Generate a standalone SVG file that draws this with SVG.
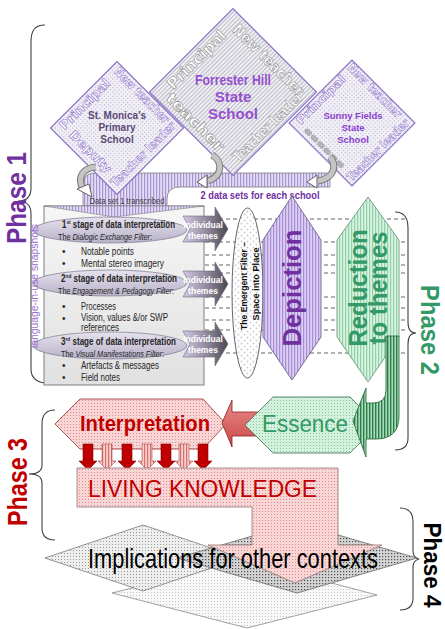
<svg xmlns="http://www.w3.org/2000/svg" width="445" height="629" viewBox="0 0 445 629">
<defs>
<pattern id="pDotsLav" width="3" height="3" patternUnits="userSpaceOnUse"><rect width="3" height="3" fill="#f1eff6"/><rect x="1" y="1" width="1" height="1" fill="#b3a9c8"/></pattern>
<pattern id="pStripeGrey" width="3" height="3" patternUnits="userSpaceOnUse"><rect width="3" height="3" fill="#efeff3"/><rect width="1" height="3" fill="#bcbcc8"/></pattern>
<pattern id="pStripePurple" width="3" height="3" patternUnits="userSpaceOnUse"><rect width="3" height="3" fill="#e4dcf3"/><rect width="1.2" height="3" fill="#a794d2"/></pattern>
<pattern id="pStripeDepict" width="3" height="3" patternUnits="userSpaceOnUse"><rect width="3" height="3" fill="#dccff2"/><rect width="1.2" height="3" fill="#a78dd8"/></pattern>
<pattern id="pStripeGreen" width="3" height="3" patternUnits="userSpaceOnUse"><rect width="3" height="3" fill="#daf2e2"/><rect width="1.2" height="3" fill="#8ed2a6"/></pattern>
<pattern id="pStripeDkGreen" width="3" height="3" patternUnits="userSpaceOnUse"><rect width="3" height="3" fill="#a8dcb8"/><rect width="1.4" height="3" fill="#2e7d4a"/></pattern>
<pattern id="pDotsGreen" width="3" height="3" patternUnits="userSpaceOnUse"><rect width="3" height="3" fill="#d4f1de"/><rect x="1" y="1" width="1" height="1" fill="#86c79c"/></pattern>
<pattern id="pDotsPink" width="3" height="3" patternUnits="userSpaceOnUse"><rect width="3" height="3" fill="#f9d6d6"/><rect x="1" y="1" width="1" height="1" fill="#de8a8a"/></pattern>
<pattern id="pStripePink" width="3" height="3" patternUnits="userSpaceOnUse"><rect width="3" height="3" fill="#f7d0d0"/><rect width="1.2" height="3" fill="#d87070"/></pattern>
<pattern id="pDotsL1" width="3" height="3" patternUnits="userSpaceOnUse"><rect width="3" height="3" fill="#f8f8f8"/><rect x="1" y="1" width="1" height="1" fill="#c6c6c6"/></pattern>
<pattern id="pDotsL2" width="3" height="3" patternUnits="userSpaceOnUse"><rect width="3" height="3" fill="#eeeeee"/><rect x="1" y="1" width="1" height="1" fill="#999"/></pattern>
<pattern id="pDotsL3" width="3" height="3" patternUnits="userSpaceOnUse"><rect width="3" height="3" fill="#d4d4d4"/><rect x="1" y="1" width="1.2" height="1.2" fill="#4f4f4f"/></pattern>
<pattern id="pDotsWhite" width="6" height="6" patternUnits="userSpaceOnUse"><rect width="6" height="6" fill="#fff"/><circle cx="1.5" cy="1.5" r="1" fill="#cfcfdc"/><circle cx="4.5" cy="4.5" r="1" fill="#cfcfdc"/></pattern>
<linearGradient id="gBox" x1="0" y1="0" x2="0" y2="1"><stop offset="0" stop-color="#f6f6f6"/><stop offset="1" stop-color="#e1e1e1"/></linearGradient>
<linearGradient id="gEll" x1="0" y1="0" x2="0" y2="1"><stop offset="0" stop-color="#e6e2ee"/><stop offset="1" stop-color="#b8b1c8"/></linearGradient>
<linearGradient id="gInd" x1="0" y1="0" x2="1" y2="0"><stop offset="0" stop-color="#d4c8e6"/><stop offset="0.55" stop-color="#8d8698"/><stop offset="1" stop-color="#484852"/></linearGradient>
<linearGradient id="gRed" x1="0" y1="0" x2="0" y2="1"><stop offset="0" stop-color="#ea8a8a"/><stop offset="1" stop-color="#c94848"/></linearGradient>
</defs>
<style>
.brace{fill:none;stroke:#404040;stroke-width:1.1}
.ph{font-family:"Liberation Sans",Arial,sans-serif;font-weight:bold;text-anchor:middle}
.lbl{font-family:"DejaVu Sans",sans-serif;font-weight:bold;fill:#fff;stroke-width:0.55;text-anchor:middle}
.lp{stroke:#8a6cc8}
.lg{stroke:#858585}
.ctr{font-family:"Liberation Sans",Arial,sans-serif;font-weight:bold;text-anchor:middle}
.bx{font-family:"Liberation Sans",Arial,sans-serif;fill:#262626}
.hd{font-weight:bold;font-size:10px}
.sub{font-size:8.5px}
.bl{font-size:10px}
.dash{stroke:#3a3a3a;stroke-width:0.8;stroke-dasharray:4 3}
.ind{fill:url(#gInd);stroke:#6a6a78;stroke-width:0.6}
.indt{font-family:"Liberation Sans",Arial,sans-serif;font-weight:bold;font-size:8.5px;fill:#fff;text-anchor:middle}
.garr{fill:none;stroke:#7a7a7a;stroke-width:7;stroke-linecap:butt}
.garr2{fill:none;stroke:#c4c4c4;stroke-width:5}
.ghead{fill:#fff;stroke:#555;stroke-width:0.9}
.dn1{fill:#c00000;stroke:#800000;stroke-width:0.6}
.dn2{fill:url(#pStripePink);stroke:#b04848;stroke-width:0.6}
.big{font-family:"Liberation Sans",Arial,sans-serif}
.nar{font-family:"Liberation Sans Narrow","Liberation Sans",Arial,sans-serif}
</style>

<g id="phase-1">
<path class="brace" d="M45,25 C35,25 31,30 31,42 L31,188 C31,197 26,201 18,201 C26,201 31,205 31,214 L31,369 C31,378 36,382 45,383"/>
<text class="ph" font-size="28" fill="#7030A0" transform="translate(26,198) rotate(-90)" textLength="92" lengthAdjust="spacingAndGlyphs">Phase 1</text>
</g>
<g id="phase-2">
<path class="brace" d="M395,212 C404,212 408,218 408,228 L408,322 C408,330 411,333 416,333 C411,333 408,336 408,344 L408,438 C408,446 404,450 395,450"/>
<text class="ph" font-size="26" fill="#339966" transform="translate(421,330) rotate(90)" textLength="90" lengthAdjust="spacingAndGlyphs">Phase 2</text>
</g>
<g id="phase-3">
<path class="brace" d="M55,410 C46,410 42,415 42,424 L42,465 C42,471 37,474 29,474 C37,474 42,477 42,483 L42,528 C42,536 46,540 55,540"/>
<text class="ph" font-size="27" fill="#C00000" transform="translate(27,482) rotate(-90)" textLength="88" lengthAdjust="spacingAndGlyphs">Phase 3</text>
</g>
<g id="phase-4">
<path class="brace" d="M400,508 C409,508 413,513 413,522 L413,551 C413,556 415,558 419,559 C415,560 413,562 413,567 L413,598 C413,606 409,610 400,610"/>
<text class="ph" font-size="24" fill="#000" transform="translate(424,565) rotate(90)" textLength="85" lengthAdjust="spacingAndGlyphs">Phase 4</text>
</g>

<g id="connectors">
<path d="M330,173 L95,173 Q83,173 83,185 L83,207 L167,207 L167,199 Q167,187 180,187 L330,187 Z" fill="url(#pStripePurple)" stroke="#7f7f7f" stroke-width="0.8"/>
<text class="nar" x="127" y="204" font-size="9" fill="#404040" text-anchor="middle" textLength="75" lengthAdjust="spacingAndGlyphs">Data set 1 transcribed</text>
</g>

<g id="node-forrester-hill">
<g transform="translate(233,92) rotate(45)">
<rect x="-59" y="-59" width="118" height="118" fill="url(#pStripeGrey)" stroke="#8c74c8" stroke-width="1.2"/>
<text class="lbl lg" font-size="15" transform="translate(-43.5,3) rotate(-90)" textLength="76" lengthAdjust="spacingAndGlyphs">Principal</text>
<text class="lbl lg" font-size="15" x="2.5" y="-42.5" textLength="94" lengthAdjust="spacingAndGlyphs">New teacher</text>
<text class="lbl lg" font-size="15" x="-5.6" y="53" textLength="75" lengthAdjust="spacingAndGlyphs">teacher</text>
<text class="lbl lg" font-size="15" transform="translate(54.5,0) rotate(-90)" textLength="92" lengthAdjust="spacingAndGlyphs">Teacher leader</text>
</g>
<text class="ctr" font-size="15" fill="#9650d0" x="233" y="85" textLength="76" lengthAdjust="spacingAndGlyphs">Forrester Hill</text>
<text class="ctr" font-size="15" fill="#9650d0" x="233" y="102">State</text>
<text class="ctr" font-size="15" fill="#9650d0" x="233" y="119">School</text>
</g>

<g id="node-st-monicas">
<g transform="translate(117,128) rotate(45)">
<rect x="-47" y="-47" width="94" height="94" fill="url(#pDotsLav)" stroke="#8c74c8" stroke-width="1.2"/>
<text class="lbl lp" font-size="12" transform="translate(-35.5,6) rotate(-90)" textLength="66" lengthAdjust="spacingAndGlyphs">Principal</text>
<text class="lbl lp" font-size="12" x="-5.7" y="-36.5" textLength="73" lengthAdjust="spacingAndGlyphs">New teacher</text>
<text class="lbl lp" font-size="12" x="-2" y="39.5" textLength="54" lengthAdjust="spacingAndGlyphs">Deputy</text>
<text class="lbl lp" font-size="12" transform="translate(41,0) rotate(-90)" textLength="86" lengthAdjust="spacingAndGlyphs">Teacher leader</text>
</g>
<text class="ctr" font-size="10" fill="#5a4a78" x="117" y="119">St. Monica’s</text>
<text class="ctr" font-size="10" fill="#5a4a78" x="117" y="131">Primary</text>
<text class="ctr" font-size="10" fill="#5a4a78" x="117" y="143">School</text>
</g>

<g id="node-sunny-fields">
<g transform="translate(352,123) rotate(45)">
<rect x="-44.5" y="-44.5" width="89" height="89" fill="url(#pDotsLav)" stroke="#8c74c8" stroke-width="1.2"/>
<text class="lbl lp" font-size="11.5" transform="translate(-34.5,5.6) rotate(-90)" textLength="64" lengthAdjust="spacingAndGlyphs">Principal</text>
<text class="lbl lp" font-size="11.5" x="-7" y="-35" textLength="71" lengthAdjust="spacingAndGlyphs">New teacher</text>
<text class="lbl lp" font-size="11.5" transform="translate(41.5,0.7) rotate(-90)" textLength="82" lengthAdjust="spacingAndGlyphs">Teacher leader</text>
<g fill="#b4b4bc" stroke="#8a8a94" stroke-width="0.6">
<rect x="-28" y="35.5" width="7" height="4" rx="1"/>
<rect x="-19" y="35.5" width="7" height="4" rx="1"/>
<rect x="-10" y="35.5" width="7" height="4" rx="1"/>
<rect x="-1" y="35.5" width="7" height="4" rx="1"/>
<rect x="8" y="35.5" width="7" height="4" rx="1"/>
<rect x="17" y="35.5" width="7" height="4" rx="1"/>
</g>
</g>
<text class="ctr" font-size="9.5" fill="#8a3fd0" x="353" y="119">Sunny Fields</text>
<text class="ctr" font-size="9.5" fill="#8a3fd0" x="353" y="131">State</text>
<text class="ctr" font-size="9.5" fill="#8a3fd0" x="353" y="143">School</text>
</g>

<g id="connectors-2">
<path class="garr" d="M96,167 C82,168 77,178 83,189"/>
<path class="garr2" d="M96,167 C82,168 77,178 83,189"/>
<polygon class="ghead" points="77,189 89,184 92,197"/>
<path class="garr" d="M212,155 C223,161 223,176 208,181"/>
<path class="garr2" d="M212,155 C223,161 223,176 208,181"/>
<polygon class="ghead" points="207,175 207,188 197,182"/>
<path class="garr" d="M330,157 C337,165 335,178 318,181"/>
<path class="garr2" d="M330,157 C337,165 335,178 318,181"/>
<polygon class="ghead" points="317,175 317,188 307,182"/>
<text class="ctr" font-size="10" fill="#7030A0" x="260" y="199" textLength="119" lengthAdjust="spacingAndGlyphs">2 data sets for each school</text>
<line class="dash" x1="205" y1="219" x2="405" y2="219"/>
<line class="dash" x1="205" y1="242" x2="405" y2="242"/>
<line class="dash" x1="205" y1="255" x2="405" y2="255"/>
<line class="dash" x1="205" y1="265" x2="405" y2="265"/>
<line class="dash" x1="205" y1="273" x2="405" y2="273"/>
<line class="dash" x1="205" y1="297" x2="405" y2="297"/>
<line class="dash" x1="205" y1="308" x2="405" y2="308"/>
<line class="dash" x1="205" y1="320" x2="405" y2="320"/>
<line class="dash" x1="205" y1="330" x2="405" y2="330"/>
<line class="dash" x1="205" y1="353" x2="405" y2="353"/>
</g>

<g id="node-interpretation-box">
<rect x="44" y="206" width="160" height="179" fill="url(#gBox)" stroke="#7f7f7f" stroke-width="1"/>
<polygon points="44,206 204,206 114,217" fill="url(#pStripePurple)" stroke="#7f7f7f" stroke-width="0.6"/>
<ellipse cx="110" cy="230" rx="77" ry="13" fill="url(#gEll)" stroke="#8a849a" stroke-width="0.8"/>
<ellipse cx="110" cy="283" rx="77" ry="13" fill="url(#gEll)" stroke="#8a849a" stroke-width="0.8"/>
<ellipse cx="110" cy="345.5" rx="77" ry="13.5" fill="url(#gEll)" stroke="#8a849a" stroke-width="0.8"/>
<text class="big" font-size="10" fill="#9a70d2" transform="translate(38,286) rotate(-90)" text-anchor="middle" textLength="124" lengthAdjust="spacingAndGlyphs">language-in-use snapshots</text>
<text class="bx hd" x="62" y="227.5" textLength="113" lengthAdjust="spacingAndGlyphs">1<tspan font-size="6" dy="-4">st</tspan><tspan dy="4"> stage of data interpretation</tspan></text>
<text class="bx sub" x="58" y="239.5" textLength="94" lengthAdjust="spacingAndGlyphs">The <tspan font-style="italic">Dialogic Exchange Filter</tspan>:</text>
<text class="bx bl" x="62" y="255">•</text>
<text class="bx bl" x="81" y="255" textLength="53" lengthAdjust="spacingAndGlyphs">Notable points</text>
<text class="bx bl" x="62" y="267">•</text>
<text class="bx bl" x="81" y="267" textLength="83" lengthAdjust="spacingAndGlyphs">Mental stereo imagery</text>
<text class="bx hd" x="61" y="281.5" textLength="116" lengthAdjust="spacingAndGlyphs">2<tspan font-size="6" dy="-4">nd</tspan><tspan dy="4"> stage of data interpretation</tspan></text>
<text class="bx sub" x="58" y="293.5" textLength="116" lengthAdjust="spacingAndGlyphs">The <tspan font-style="italic">Engagement &amp; Pedagogy Filter</tspan>:</text>
<text class="bx bl" x="62" y="310">•</text>
<text class="bx bl" x="81" y="310" textLength="35" lengthAdjust="spacingAndGlyphs">Processes</text>
<text class="bx bl" x="62" y="322">•</text>
<text class="bx bl" x="81" y="321" textLength="87" lengthAdjust="spacingAndGlyphs">Vision, values &amp;/or SWP</text>
<text class="bx bl" x="81" y="331" textLength="38" lengthAdjust="spacingAndGlyphs">references</text>
<text class="bx hd" x="61" y="344.5" textLength="115" lengthAdjust="spacingAndGlyphs">3<tspan font-size="6" dy="-4">rd</tspan><tspan dy="4"> stage of data interpretation</tspan></text>
<text class="bx sub" x="61" y="356.5" textLength="103" lengthAdjust="spacingAndGlyphs">The <tspan font-style="italic">Visual Manifestations Filter</tspan>:</text>
<text class="bx bl" x="62" y="369">•</text>
<text class="bx bl" x="81" y="369" textLength="78" lengthAdjust="spacingAndGlyphs">Artefacts &amp; messages</text>
<text class="bx bl" x="62" y="381">•</text>
<text class="bx bl" x="81" y="381" textLength="39" lengthAdjust="spacingAndGlyphs">Field notes</text>
</g>

<g id="node-individual-themes">
<path class="ind" d="M183,216 L215,216 L215,207 L228,229 L215,251 L215,242 L183,242 L190,229 Z"/>
<text class="indt" x="203" y="228">Individual</text><text class="indt" x="203" y="239">themes</text>
<path class="ind" d="M183,271 L215,271 L215,262 L228,284 L215,306 L215,297 L183,297 L190,284 Z"/>
<text class="indt" x="203" y="283">Individual</text><text class="indt" x="203" y="294">themes</text>
<path class="ind" d="M183,331 L215,331 L215,322 L228,344 L215,366 L215,357 L183,357 L190,344 Z"/>
<text class="indt" x="203" y="342">Individual</text><text class="indt" x="203" y="353">themes</text>
</g>

<g id="node-emergent-filter">
<ellipse cx="247.5" cy="293" rx="15.5" ry="85" fill="url(#pDotsWhite)" stroke="#555" stroke-width="0.9"/>
<text class="ctr" font-size="9.5" fill="#111" transform="translate(246.5,286) rotate(-90)" textLength="88" lengthAdjust="spacingAndGlyphs">The Emergent Filter –</text>
<text class="ctr" font-size="9.5" fill="#111" transform="translate(258.5,284) rotate(-90)" textLength="73" lengthAdjust="spacingAndGlyphs">Space into Place</text>
</g>

<g id="node-depiction">
<polygon points="292,196 321,240 321,337 292,380 263,337 263,240" fill="url(#pStripeDepict)" stroke="#6d6090" stroke-width="0.9"/>
<text class="ph" font-size="26" fill="#7030A0" transform="translate(301,288) rotate(-90)" textLength="117" lengthAdjust="spacingAndGlyphs">Depiction</text>
</g>

<g id="node-reduction">
<polygon points="368,197 399,240 399,337 368,382 337,337 337,240" fill="url(#pStripeGreen)" stroke="#6f9a80" stroke-width="0.9"/>
<text class="ph" font-size="25" fill="#339966" transform="translate(367,288) rotate(-90)" textLength="117" lengthAdjust="spacingAndGlyphs">Reduction</text>
<text class="ph" font-size="25" fill="#339966" transform="translate(387,288) rotate(-90)" textLength="113" lengthAdjust="spacingAndGlyphs">to themes</text>
</g>

<g id="node-interpretation">
<polygon points="55,424 80,399 203,399 226,424 203,449 80,449" fill="url(#pDotsPink)" stroke="#a04040" stroke-width="0.9"/>
<text class="nar" x="80" y="431" font-size="22" font-weight="bold" fill="#C00000" textLength="130" lengthAdjust="spacingAndGlyphs">Interpretation</text>
</g>

<g id="connectors-3">
<polygon points="222,423 232,400 232,412 262,412 262,436 232,436 232,447" fill="url(#gRed)" stroke="#8b2020" stroke-width="0.8"/>
</g>

<g id="node-essence">
<polygon points="245,425 273,397 350,397 362,409 362,441 350,453 273,453" fill="url(#pDotsGreen)" stroke="#4d7a5c" stroke-width="0.9"/>
<text class="nar" x="262" y="432" font-size="23" fill="#339966" textLength="86" lengthAdjust="spacingAndGlyphs">Essence</text>
</g>

<g id="connectors-4">
<path d="M386,336 L399,336 L399,416 Q399,439 376,439 L366,439 L366,457 L353,421 L366,388 L366,403 L373,403 Q386,403 386,390 Z" fill="url(#pStripeDkGreen)" stroke="#2e6e40" stroke-width="0.9"/>
<path class="dn1" d="M83,444 h10 v17 h4 l-9,9 l-9,-9 h4 z"/>
<path class="dn2" d="M102,444 h10 v17 h4 l-9,9 l-9,-9 h4 z"/>
<path class="dn1" d="M122,444 h10 v17 h4 l-9,9 l-9,-9 h4 z"/>
<path class="dn2" d="M142,444 h10 v17 h4 l-9,9 l-9,-9 h4 z"/>
<path class="dn1" d="M161,444 h10 v17 h4 l-9,9 l-9,-9 h4 z"/>
<path class="dn2" d="M179,444 h10 v17 h4 l-9,9 l-9,-9 h4 z"/>
<path class="dn1" d="M198,444 h10 v17 h4 l-9,9 l-9,-9 h4 z"/>
</g>

<g id="node-implications">
<polygon points="112,593 245,560 377,595 247,628" fill="url(#pDotsL1)" stroke="#8a8a8a" stroke-width="0.8"/>
<polygon points="45,558 143,525 241,558 143,591" fill="url(#pDotsL2)" stroke="#7a7a7a" stroke-width="0.8"/>
<polygon points="177,558 297,523 417,558 297,593" fill="url(#pDotsL3)" stroke="#6a6a6a" stroke-width="0.8"/>
</g>

<g id="node-living-knowledge">
<polygon points="77,468 338,468 338,545 382,545 295,583 208,545 252,545 252,507 77,507" fill="url(#pDotsPink)" stroke="#9a8080" stroke-width="0.9"/>
<text class="nar" x="88" y="497" font-size="23" fill="#C00000" textLength="229" lengthAdjust="spacingAndGlyphs">LIVING KNOWLEDGE</text>
</g>

<g id="label-implications">
<text class="nar" x="88" y="568" font-size="28" fill="#000" textLength="290" lengthAdjust="spacingAndGlyphs">Implications for other contexts</text>
</g>
</svg>
